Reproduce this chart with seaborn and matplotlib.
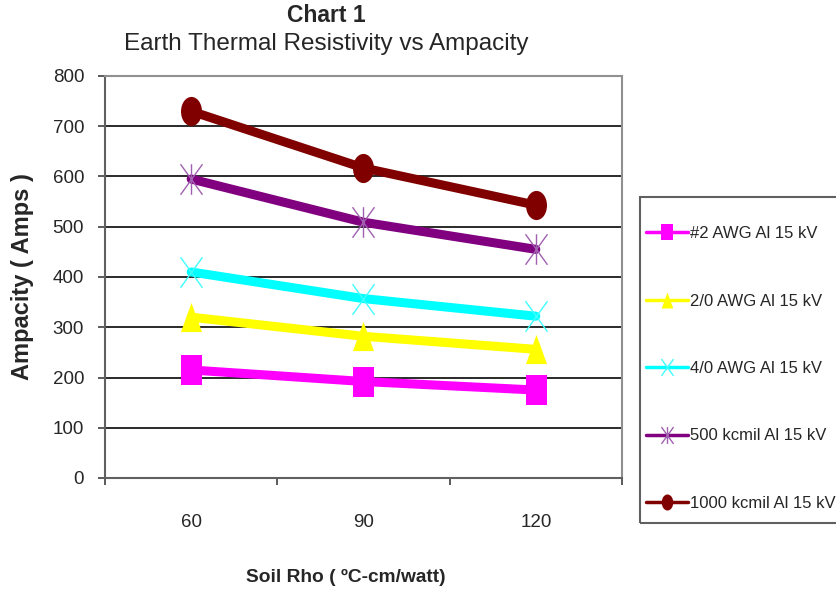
import numpy as np
import pandas as pd
import matplotlib
matplotlib.use("Agg")
import matplotlib.pyplot as plt
from matplotlib.path import Path
from matplotlib.patches import Rectangle
from matplotlib.ticker import FixedLocator, NullFormatter, FixedFormatter
import seaborn as sns

SOIL_RHO = ["60", "90", "120"]
SERIES = [
    "#2 AWG Al 15 kV",
    "2/0 AWG Al 15 kV",
    "4/0 AWG Al 15 kV",
    "500 kcmil Al 15 kV",
    "1000 kcmil Al 15 kV",
]
AMPS_2AWG = [215, 192, 175]
AMPS_2_0AWG = [320, 282, 256]
AMPS_4_0AWG = [410, 357, 322]
AMPS_500KCMIL = [595, 509, 455]
AMPS_1000KCMIL = [730, 617, 543]
Y_TICKS = [0, 100, 200, 300, 400, 500, 600, 700, 800]

TITLE = "Chart 1"
SUBTITLE = "Earth Thermal Resistivity vs Ampacity"
X_LABEL = "Soil Rho ( \u00baC-cm/watt)"
Y_LABEL = "Ampacity ( Amps )"

COLORS = ["#ff00ff", "#ffff00", "#00ffff", "#800080", "#800000"]

# Excel markers look stretched vertically, so build squashed marker paths
SQ = 0.72
m_square = Path([(-SQ, -1), (SQ, -1), (SQ, 1), (-SQ, 1), (-SQ, -1)], closed=True)
m_tri = Path([(0, 1), (-SQ, -1), (SQ, -1), (0, 1)], closed=True)
circ = Path.unit_circle()
m_ellipse = Path(circ.vertices * [SQ, 1], circ.codes)
m_cross = Path([(-SQ, -1), (SQ, 1), (-SQ, 1), (SQ, -1)],
               [Path.MOVETO, Path.LINETO, Path.MOVETO, Path.LINETO])
m_star = Path([(-SQ, -1), (SQ, 1), (-SQ, 1), (SQ, -1), (0, -1), (0, 1)],
              [Path.MOVETO, Path.LINETO, Path.MOVETO, Path.LINETO, Path.MOVETO, Path.LINETO])

styles = [
    dict(marker=m_square, markersize=21, markeredgewidth=0),
    dict(marker=m_tri, markersize=21, markeredgewidth=0),
    dict(marker=m_cross, markersize=22, markeredgewidth=1.0, markeredgecolor="#40ffff"),
    dict(marker=m_star, markersize=22, markeredgewidth=1.0, markeredgecolor="#a060b0"),
    dict(marker=m_ellipse, markersize=21, markeredgewidth=0),
]

df = pd.DataFrame({
    "rho": SOIL_RHO * len(SERIES),
    "pos": list(range(len(SOIL_RHO))) * len(SERIES),
    "series": np.repeat(SERIES, len(SOIL_RHO)),
    "amps": AMPS_2AWG + AMPS_2_0AWG + AMPS_4_0AWG + AMPS_500KCMIL + AMPS_1000KCMIL,
})

sns.set_style("white")
plt.rcParams["font.family"] = ["Liberation Sans", "DejaVu Sans"]

fig = plt.figure(figsize=(8.37, 5.91), dpi=100)
ax = fig.add_axes([105 / 837, 1 - 478 / 591, 517 / 837, 402 / 591])

for name, color, st in zip(SERIES, COLORS, styles):
    sub = df[df["series"] == name]
    sns.lineplot(data=sub, x="pos", y="amps", ax=ax, color=color,
                 linewidth=6.5, label=name, **st)

ax.set_xlim(-0.5, len(SOIL_RHO) - 0.5)
ax.set_ylim(0, 800)
ax.set_yticks(Y_TICKS)
ax.set_yticklabels([str(v) for v in Y_TICKS], fontsize=13.5)

# category boundaries get tick marks, centres get the labels
ax.xaxis.set_major_locator(FixedLocator(np.arange(-0.5, len(SOIL_RHO), 1.0)))
ax.xaxis.set_major_formatter(NullFormatter())
ax.xaxis.set_minor_locator(FixedLocator(np.arange(len(SOIL_RHO))))
ax.xaxis.set_minor_formatter(FixedFormatter(SOIL_RHO))
ax.tick_params(axis="x", which="major", direction="out", length=5, width=1.2,
               color="#404040", bottom=True)
ax.tick_params(axis="x", which="minor", length=0, pad=26, labelsize=13.5)
ax.tick_params(axis="y", direction="out", length=5, width=1.2, color="#404040",
               left=True, pad=10)

ax.grid(axis="y", color="#2a2a2a", linewidth=1.4)
ax.grid(axis="x", visible=False)
ax.set_axisbelow(True)
for side in ["left", "bottom"]:
    ax.spines[side].set_color("#606060")
    ax.spines[side].set_linewidth(1.5)
for side in ["top", "right"]:
    ax.spines[side].set_color("#909090")
    ax.spines[side].set_linewidth(1.5)

ax.set_xlabel(X_LABEL, fontsize=13.8, fontweight="bold")
ax.xaxis.set_label_coords((346 - 105) / 517, (478 - 569) / 402)
ax.set_ylabel(Y_LABEL, fontsize=17, fontweight="bold")
ax.yaxis.set_label_coords((34 - 105) / 517, 0.5)

fig.text(326 / 837, 1 - 16 / 591, TITLE, fontsize=16.5, fontweight="bold",
         ha="center", va="center")
fig.text(326 / 837, 1 - 44 / 591, SUBTITLE, fontsize=17.5,
         ha="center", va="center")

# legend frame runs off the right edge, like the reference
fig.patches.append(Rectangle((640 / 837, 1 - 523 / 591), 220 / 837, 326 / 591,
                             transform=fig.transFigure, fill=False,
                             edgecolor="#606060", linewidth=1.5))

handles, labels = ax.get_legend_handles_labels()
ax.get_legend().remove()
leg = fig.legend(handles, labels, loc="upper left",
                 bbox_to_anchor=(646 / 837, 1 - 226 / 591),
                 fontsize=12, frameon=False,
                 handlelength=2.5, handletextpad=0.12, labelspacing=3.15,
                 borderpad=0, borderaxespad=0, markerscale=0.55)
for line in leg.get_lines():
    line.set_linewidth(2.5)

fig.savefig("out.png", dpi=100)
